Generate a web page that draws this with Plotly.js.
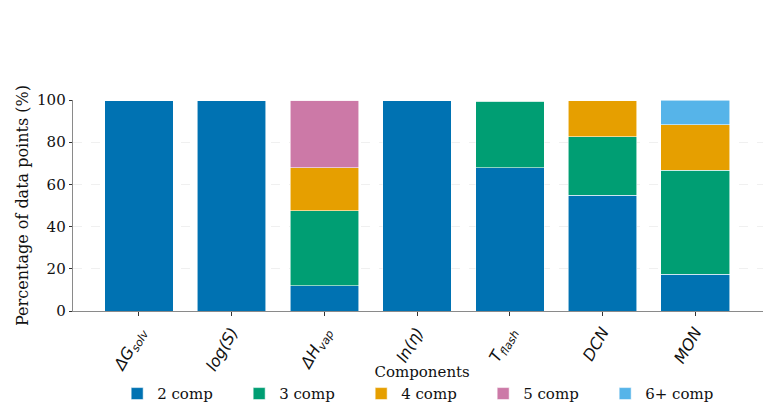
<!DOCTYPE html>
<html>
<head>
<meta charset="utf-8">
<script src="https://cdn.plot.ly/plotly-3.0.1.min.js"></script>
<style>html,body{margin:0;padding:0;background:#fff;}#chart{width:770px;height:408px;}</style>
</head>
<body>
<div id="chart"></div>
<script>
const categories = ["dGsolv", "logS", "dHvap", "lneta", "Tflash", "DCN", "MON"];
const tickLabels = [
  "<i>ΔG<sub>solv</sub></i>",
  "<i>log(S)</i>",
  "<i>ΔH<sub>vap</sub></i>",
  "<i>ln(η)</i>",
  "<i>T<sub>flash</sub></i>",
  "<i>DCN</i>",
  "<i>MON</i>"
];
const seriesNames = ["2 comp", "3 comp", "4 comp", "5 comp", "6+ comp"];
const comp2 = [100, 100, 12.0, 99.6, 67.9, 54.8, 17.4];
const comp3 = [0, 0, 35.6, 0, 31.5, 27.8, 49.4];
const comp4 = [0, 0, 20.3, 0, 0.6, 17.4, 21.5];
const comp5 = [0, 0, 32.1, 0, 0, 0, 0];
const comp6 = [0, 0, 0, 0, 0, 0, 11.7];
const yTicks = [0, 20, 40, 60, 80, 100];

const colors = ["#0072B2", "#009E73", "#E69F00", "#CC79A7", "#56B4E9"];
const allSeries = [comp2, comp3, comp4, comp5, comp6];

const traces = allSeries.map((vals, i) => ({
  type: "bar",
  x: categories,
  y: vals,
  name: seriesNames[i],
  marker: {color: colors[i], line: {color: "rgba(255,255,255,0.7)", width: 0.8}},
  hoverinfo: "skip"
}));

const serif = "DejaVu Serif, serif";
const layout = {
  width: 770,
  height: 408,
  margin: {l: 73, r: 7, t: 99.5, b: 97, autoexpand: false},
  paper_bgcolor: "#fff",
  plot_bgcolor: "#fff",
  barmode: "stack",
  bargap: 0.26,
  showlegend: true,
  xaxis: {
    type: "category",
    range: [-0.71, 6.73],
    tickvals: categories,
    ticktext: tickLabels,
    tickangle: -60,
    tickfont: {family: "DejaVu Sans, sans-serif", size: 16, color: "#111"},
    showline: true,
    linecolor: "#8a8a8a",
    linewidth: 1.3,
    ticks: "outside",
    ticklen: 4,
    tickcolor: "#333",
    showgrid: false,
    zeroline: false,
    automargin: false,
    fixedrange: true
  },
  yaxis: {
    range: [0, 100],
    tickvals: yTicks,
    tickfont: {family: serif, size: 15, color: "#111"},
    title: {text: "Percentage of data points (%)", font: {family: serif, size: 16, color: "#111"}, standoff: 4},
    showline: true,
    linecolor: "#8a8a8a",
    linewidth: 1.3,
    ticks: "outside",
    ticklen: 3,
    tickcolor: "#333",
    showgrid: true,
    gridcolor: "#ececec",
    griddash: "dash",
    gridwidth: 0.8,
    zeroline: false,
    automargin: false,
    fixedrange: true
  },
  legend: {
    orientation: "h",
    x: 0.064,
    xanchor: "left",
    y: -0.222,
    yanchor: "top",
    bgcolor: "rgba(0,0,0,0)",
    font: {family: serif, size: 15, color: "#111"},
    title: {text: "Components", side: "top center", font: {family: serif, size: 15, color: "#111"}},
    entrywidth: 77,
    itemwidth: 30,
    traceorder: "normal"
  }
};

Plotly.newPlot("chart", traces, layout, {displayModeBar: false, staticPlot: true});
</script>
</body>
</html>
